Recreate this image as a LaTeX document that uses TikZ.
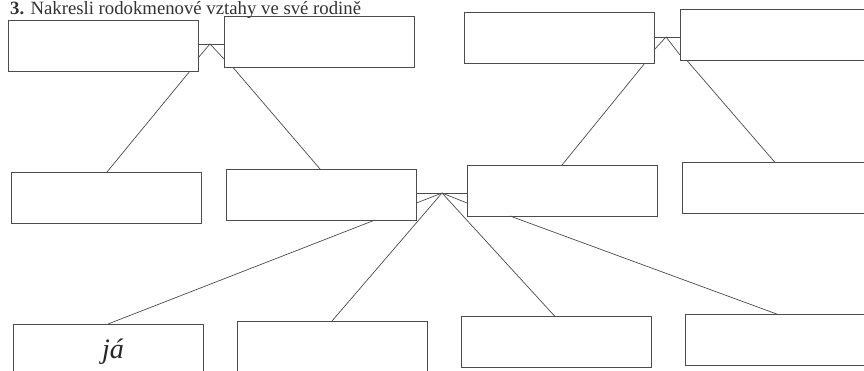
\documentclass[tikz,border=0pt]{standalone}
\usepackage{fontspec}
\setmainfont{Liberation Serif}
\usetikzlibrary{calc}

\tikzset{
  person/.style={draw=black!70, line width=0.6pt, rectangle,
    minimum width=5.7cm, minimum height=1.53cm, inner sep=0pt, outer sep=0pt},
  link/.style={draw=black!70, line width=0.6pt}
}

\begin{document}
\begin{tikzpicture}[x=0.03cm, y=-0.03cm]
                \useasboundingbox (0,0) rectangle (864,371);
                \fill[white] (0,0) rectangle (864,371);

                % Heading
                \node[anchor=base west, inner sep=0pt, text=black!80,
                  font=\fontsize{16}{16}\selectfont] (title) at (10,15)
                  {\textbf{3.} Nakresli rodokmenové vztahy ve své rodině};

                % Grandparents
                \node[person] (a) at (103,45.5) {};
                \node[person] (b) at (319,42) {};
                \node[person] (c) at (559,37.5) {};
                \node[person] (d) at (775,35) {};

                % Parents, uncle and aunt
                \node[person] (e) at (106.5,197.5) {};
                \node[person] (f) at (321.5,194.5) {};
                \node[person] (g) at (562,190.5) {};
                \node[person] (h) at (777,188) {};

                % Children
                \node[person] (k) at (108.5,349.5) {};
                \node[person] (l) at (332.5,346.5) {};
                \node[person] (m) at (556.5,342) {};
                \node[person] (n) at (780,340) {};
                \node[font=\itshape\fontsize{24}{24}\selectfont, text=black!85] (ja) at (113,352) {já};

                % Couples
                \coordinate (ab) at (210,44);
                \coordinate (cd) at (666,37);
                \coordinate (fg) at (442,193);
                \foreach \l/\r/\ap/\dl/\dr in {a/b/ab/14/15, c/d/cd/13/18, f/g/fg/10/10} {
                  \draw[link] (\l.east |- \ap) -- (\r.west |- \ap);
                  \draw[link] ($(\l.east |- \ap)+(0,\dl)$) -- (\ap) -- ($(\r.west |- \ap)+(0,\dr)$);
                }

                % Descent
                \draw[link] (a.south -| 190,0) -- (e.north -| 107,0);
                \draw[link] (b.south -| 233,0) -- (f.north -| 320,0);
                \draw[link] (c.south -| 645,0) -- (g.north -| 562,0);
                \draw[link] (d.south -| 687,0) -- (h.north -| 775,0);
                \draw[link] (f.south -| 375,0) -- (k.north -| 108,0);
                \draw[link] (fg) -- (l.north -| 332,0);
                \draw[link] (fg) -- (m.north -| 555,0);
                \draw[link] (g.south -| 510,0) -- (n.north -| 778,0);
\end{tikzpicture}
\end{document}
